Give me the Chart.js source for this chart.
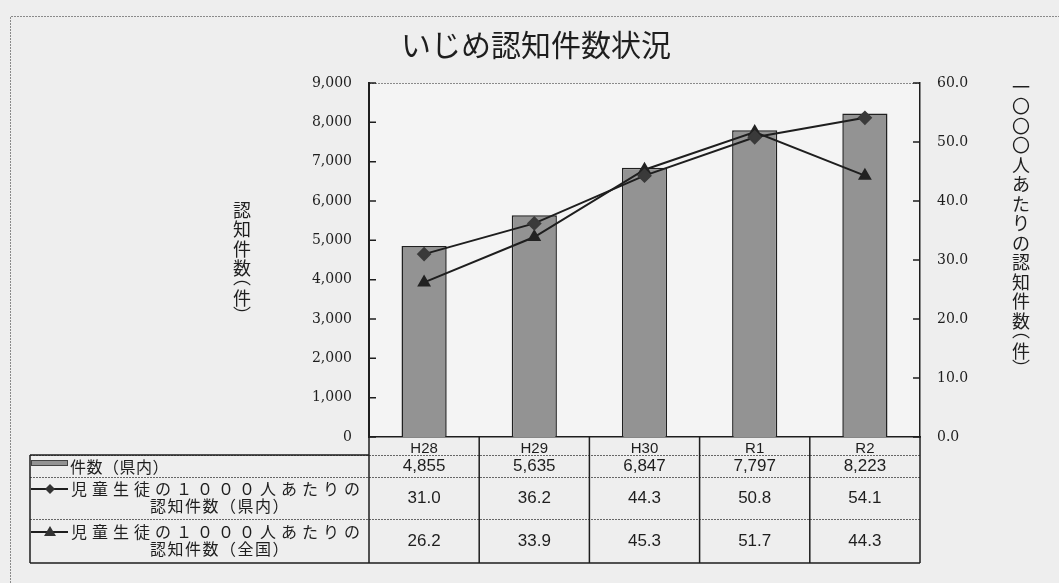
<!DOCTYPE html>
<html>
<head>
<meta charset="utf-8">
<script src="https://cdn.jsdelivr.net/npm/chart.js@4"></script>
<style>
  html, body { margin: 0; padding: 0; background: #eeeeee; }
  #wrap { width: 1059px; height: 583px; }
</style>
</head>
<body>
<div id="wrap"><canvas id="chart" width="1059" height="583"></canvas></div>
<script>
// Data
const categories = ['H28', 'H29', 'H30', 'R1', 'R2']
const casesPref = [4855, 5635, 6847, 7797, 8223]        // 件数(県内)
const ratePref = [31.0, 36.2, 44.3, 50.8, 54.1]         // 1000人あたり(県内)
const rateNational = [26.2, 33.9, 45.3, 51.7, 44.3]     // 1000人あたり(全国)

const title = 'いじめ認知件数状況'
const leftAxisTitle = ['認', '知', '件', '数', '︵', '件', '︶']
const rightAxisTitle = ['一', '〇', '〇', '〇', '人', 'あ', 'た', 'り', 'の', '認', '知', '件', '数', '︵', '件', '︶']
const seriesNames = [
  ['件数（県内）'],
  ['児童生徒の１０００人あたりの', '認知件数（県内）'],
  ['児童生徒の１０００人あたりの', '認知件数（全国）']
]

const JP = '"Noto Sans CJK JP", sans-serif'
const INK = '#1e1e1e'

const fmtCases = v => v.toLocaleString('en-US')
const fmtRate = v => v.toFixed(1)

// stacked vertical text; the vertical bracket glyphs sit off-centre in their cell
function drawVertical(ctx, chars, x, y) {
  chars.forEach((ch, i) => {
    ctx.fillText(ch, x, y)
    const next = chars[i + 1]
    if (next === '︵') y += 9
    else if (ch === '︵') y += 21
    else if (next === '︶') y += 17
    else y += 19.5
  })
}

// page frame, plot background, inward ticks, vertical titles and data table
const decor = {
  id: 'decor',
  beforeDraw(chart) {
    const { ctx, chartArea: a } = chart
    ctx.save()
    ctx.fillStyle = '#eeeeee'
    ctx.fillRect(0, 0, chart.width, chart.height)
    ctx.fillStyle = '#f4f4f4'
    ctx.fillRect(a.left, a.top, a.right - a.left, a.bottom - a.top)
    // dotted page frame
    ctx.strokeStyle = '#8a8a8a'
    ctx.lineWidth = 1
    ctx.setLineDash([2, 1])
    ctx.beginPath()
    ctx.moveTo(10.5, chart.height)
    ctx.lineTo(10.5, 16.5)
    ctx.lineTo(chart.width, 16.5)
    ctx.stroke()
    // top edge of plot area
    ctx.beginPath()
    ctx.moveTo(a.left, a.top + 0.5)
    ctx.lineTo(a.right, a.top + 0.5)
    ctx.stroke()
    ctx.restore()
  },
  afterDraw(chart) {
    const { ctx, chartArea: a } = chart
    const xs = chart.scales.x
    const y = chart.scales.y
    const y1 = chart.scales.y1
    ctx.save()

    // inward tick marks
    ctx.strokeStyle = INK
    ctx.lineWidth = 1.5
    ctx.beginPath()
    y.ticks.forEach((t, i) => {
      const py = y.getPixelForTick(i)
      ctx.moveTo(a.left, py); ctx.lineTo(a.left + 7, py)
    })
    y1.ticks.forEach((t, i) => {
      const py = y1.getPixelForTick(i)
      ctx.moveTo(a.right, py); ctx.lineTo(a.right - 7, py)
    })
    ctx.stroke()

    // vertical axis titles
    ctx.fillStyle = INK
    ctx.font = '18px ' + JP
    ctx.textAlign = 'center'
    ctx.textBaseline = 'middle'
    drawVertical(ctx, leftAxisTitle, 242, 210)
    drawVertical(ctx, rightAxisTitle, 1021, 87)

    // data table
    const n = categories.length
    const colW = (xs.right - xs.left) / n
    const headBottom = 455
    const tableLeft = 30

    // horizontal separators (dotted, grey)
    ctx.strokeStyle = '#666'
    ctx.lineWidth = 1
    ctx.setLineDash([2, 1])
    ctx.beginPath()
    ctx.moveTo(tableLeft, headBottom + 0.5); ctx.lineTo(xs.right, headBottom + 0.5)
    ctx.moveTo(tableLeft, 477.5); ctx.lineTo(xs.right, 477.5)
    ctx.moveTo(tableLeft, 519.5); ctx.lineTo(xs.right, 519.5)
    ctx.stroke()
    ctx.setLineDash([])

    // vertical lines and outer border
    ctx.strokeStyle = INK
    ctx.lineWidth = 1.5
    ctx.beginPath()
    for (let i = 0; i <= n; i++) {
      const px = xs.left + i * colW
      ctx.moveTo(px, a.bottom); ctx.lineTo(px, 563)
    }
    ctx.moveTo(tableLeft, headBottom); ctx.lineTo(tableLeft, 563)
    ctx.moveTo(tableLeft, 563); ctx.lineTo(xs.right, 563)
    ctx.moveTo(tableLeft, headBottom); ctx.lineTo(xs.left, headBottom)
    ctx.stroke()

    // values
    ctx.fillStyle = INK
    ctx.font = '17px "Liberation Sans", sans-serif'
    ctx.textAlign = 'center'
    ctx.textBaseline = 'middle'
    categories.forEach((c, i) => {
      const cx = xs.getPixelForValue(i)
      ctx.fillText(fmtCases(casesPref[i]), cx, 466)
      ctx.fillText(fmtRate(ratePref[i]), cx, 498)
      ctx.fillText(fmtRate(rateNational[i]), cx, 541)
    })

    // legend icons
    ctx.fillStyle = '#939393'
    ctx.strokeStyle = '#444'
    ctx.lineWidth = 1
    ctx.fillRect(31, 460, 37, 6)
    ctx.strokeRect(31.5, 460.5, 36, 5)

    ctx.strokeStyle = INK
    ctx.lineWidth = 2
    ctx.beginPath()
    ctx.moveTo(31, 489); ctx.lineTo(68, 489)
    ctx.moveTo(31, 532); ctx.lineTo(68, 532)
    ctx.stroke()
    ctx.fillStyle = '#333'
    ctx.beginPath()
    ctx.moveTo(50, 484); ctx.lineTo(55, 489); ctx.lineTo(50, 494); ctx.lineTo(45, 489)
    ctx.closePath(); ctx.fill()
    ctx.beginPath()
    ctx.moveTo(50, 526); ctx.lineTo(56, 536); ctx.lineTo(44, 536)
    ctx.closePath(); ctx.fill()

    // legend text
    ctx.fillStyle = INK
    ctx.font = '16px ' + JP
    ctx.textAlign = 'left'
    ctx.letterSpacing = '0.5px'
    ctx.fillText(seriesNames[0][0], 70, 467)
    ctx.textAlign = 'center'
    ctx.letterSpacing = '5px'
    ctx.fillText(seriesNames[1][0], 218, 489)
    ctx.fillText(seriesNames[2][0], 218, 532)
    ctx.letterSpacing = '1.5px'
    ctx.fillText(seriesNames[1][1], 220, 506)
    ctx.fillText(seriesNames[2][1], 220, 549)
    ctx.restore()
  }
}

new Chart(document.getElementById('chart'), {
  data: {
    labels: categories,
    datasets: [
      {
        type: 'line',
        label: seriesNames[1].join(''),
        data: ratePref,
        yAxisID: 'y1',
        order: 1,
        borderColor: INK,
        borderWidth: 2,
        pointStyle: 'rectRot',
        pointRadius: 6,
        pointBackgroundColor: '#3a3a3a',
        pointBorderColor: '#3a3a3a',
        tension: 0
      },
      {
        type: 'line',
        label: seriesNames[2].join(''),
        data: rateNational,
        yAxisID: 'y1',
        order: 1,
        borderColor: INK,
        borderWidth: 2,
        pointStyle: 'triangle',
        pointRadius: 6,
        pointBackgroundColor: '#222',
        pointBorderColor: '#222',
        tension: 0
      },
      {
        type: 'bar',
        label: seriesNames[0][0],
        data: casesPref,
        yAxisID: 'y',
        order: 2,
        backgroundColor: '#939393',
        borderColor: '#202020',
        borderWidth: 1.5,
        barPercentage: 0.41,
        categoryPercentage: 1
      }
    ]
  },
  options: {
    responsive: false,
    animation: false,
    layout: { padding: { left: 13, right: 0, top: 0, bottom: 0 } },
    plugins: {
      legend: { display: false },
      tooltip: { enabled: false },
      title: {
        display: true,
        text: title,
        color: INK,
        font: { family: JP, size: 30, weight: 'normal' },
        padding: { top: 27, bottom: 20 }
      }
    },
    scales: {
      x: {
        grid: { display: false, drawTicks: false },
        border: { display: true, color: INK, width: 1.5 },
        ticks: { color: INK, padding: 3, font: { family: '"Liberation Sans", sans-serif', size: 15 } },
        afterFit: s => { s.height = 146 }
      },
      y: {
        position: 'left',
        min: 0,
        max: 9000,
        grid: { display: false, drawTicks: false },
        border: { display: true, color: INK, width: 2 },
        ticks: {
          stepSize: 1000,
          padding: 17,
          color: INK,
          font: { family: '"DejaVu Serif", serif', size: 14 },
          callback: v => fmtCases(v)
        },
        afterFit: s => { s.width = 356 }
      },
      y1: {
        position: 'right',
        min: 0,
        max: 60,
        grid: { display: false, drawTicks: false },
        border: { display: true, color: INK, width: 1.5 },
        ticks: {
          stepSize: 10,
          padding: 17,
          color: INK,
          font: { family: '"DejaVu Serif", serif', size: 14 },
          callback: v => fmtRate(v)
        },
        afterFit: s => { s.width = 139 }
      }
    }
  },
  plugins: [decor]
})
</script>
</body>
</html>
